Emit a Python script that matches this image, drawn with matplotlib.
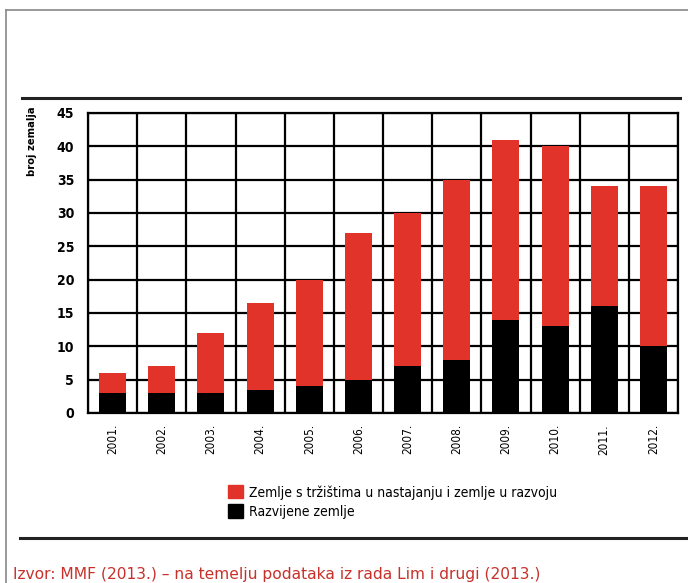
import matplotlib.pyplot as plt
from matplotlib.lines import Line2D
from matplotlib.patches import Patch
import numpy as np

# data
years = ['2001.', '2002.', '2003.', '2004.', '2005.', '2006.',
         '2007.', '2008.', '2009.', '2010.', '2011.', '2012.']
developed = [3, 3, 3, 3.5, 4, 5, 7, 8, 14, 13, 16, 10]
total = [6, 7, 12, 16.5, 20, 27, 30, 35, 41, 40, 34, 34]
emerging = [t - d for t, d in zip(total, developed)]

RED = '#e2332a'
narrow = ['Liberation Sans Narrow', 'DejaVu Sans']

fig = plt.figure(figsize=(6.88, 5.83), dpi=100)
W, H = 688, 583

ax = fig.add_axes([88 / W, 1 - 413 / H, 590 / W, 300 / H])
x = np.arange(len(years))
ax.bar(x, developed, width=0.55, color='black', zorder=3)
ax.bar(x, emerging, width=0.55, bottom=developed, color=RED, zorder=3)

ax.set_xlim(-0.5, len(years) - 0.5)
ax.set_ylim(0, 45)
ax.set_yticks(range(0, 46, 5))
ax.set_xticks(x)
ax.set_xticklabels(years, rotation=90, family=narrow, fontsize=8.5,
                   fontstretch='condensed')
for lab in ax.get_yticklabels():
    lab.set_family(narrow)
    lab.set_fontsize(10)
    lab.set_fontweight('bold')
    lab.set_fontstretch('condensed')
ax.tick_params(length=0, pad=10)
ax.tick_params(axis='x', pad=8)

# grid at category boundaries and every 5 units
for b in np.arange(-0.5, len(years), 1):
    ax.axvline(b, color='black', lw=1.6, zorder=2)
for v in range(0, 46, 5):
    ax.axhline(v, color='black', lw=1.6, zorder=2)
for s in ax.spines.values():
    s.set_linewidth(1.6)
    s.set_zorder(4)

fig.text(32 / W, 1 - 106 / H, 'broj zemalja', rotation=90, ha='center', va='top',
         fontsize=8, family=narrow, fontweight='bold', fontstretch='condensed')

# frame and rules
fig.add_artist(Line2D([6 / W, 6 / W], [0, 1 - 10 / H], color='#888888', lw=1.2))
fig.add_artist(Line2D([6 / W, 1], [1 - 10 / H, 1 - 10 / H], color='#888888', lw=1.2))
fig.add_artist(Line2D([22 / W, 680 / W], [1 - 98 / H, 1 - 98 / H], color='#222222', lw=2.2))
fig.add_artist(Line2D([20 / W, 1], [1 - 538 / H, 1 - 538 / H], color='#222222', lw=2.2))

handles = [Patch(color=RED), Patch(color='black')]
labels = ['Zemlje s tržištima u nastajanju i zemlje u razvoju', 'Razvijene zemlje']
fig.legend(handles, labels, loc='upper left', bbox_to_anchor=(228 / W, 1 - 485 / H),
           frameon=False, borderaxespad=0, borderpad=0,
           handlelength=1.1, handleheight=1.1, handletextpad=0.4,
           labelspacing=0.35, prop={'family': narrow, 'size': 10, 'stretch': 'condensed'})

fig.text(13 / W, 1 - 574 / H,
         'Izvor: MMF (2013.) – na temelju podataka iz rada Lim i drugi (2013.)',
         color='#c8312a', fontsize=11.2, va='center')

fig.savefig('out.png', dpi=100)
